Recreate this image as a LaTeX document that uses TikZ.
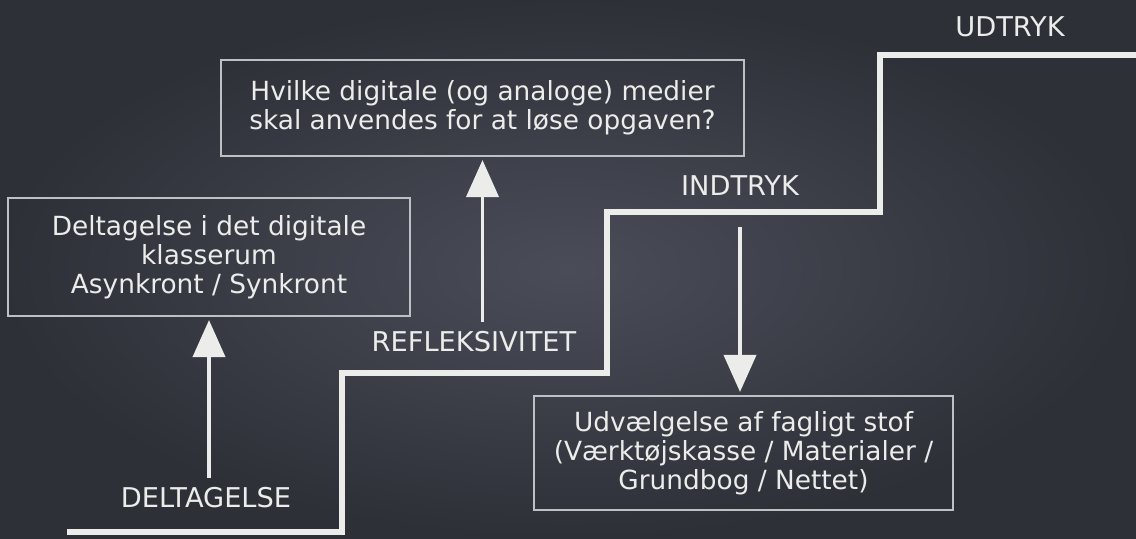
\documentclass[tikz,border=0pt]{standalone}
\usepackage{fontspec}
\setmainfont{DejaVu Sans}
\usepackage{tikz}
\usetikzlibrary{arrows.meta, positioning, calc}
\definecolor{chalk}{RGB}{236, 236, 234}
\definecolor{boardlight}{RGB}{74, 77, 88}
\definecolor{boarddark}{RGB}{46, 48, 56}
\definecolor{boxline}{RGB}{190, 192, 196}
\tikzset{
  notebox/.style={
    draw=boxline, rectangle, line width=0.6pt,
    align=center, text=chalk, inner sep=4pt,
    font=\fontsize{15}{16.5}\selectfont
  },
  steplabel/.style={
    text=chalk, font=\fontsize{15.5}{17}\selectfont
  },
  stairs/.style={
    draw=chalk, line width=3.4pt, line join=miter
  },
  chalkarrow/.style={
    -{Triangle[width=0.64cm, length=0.74cm]}, draw=chalk, fill=chalk,
    line width=2.2pt, shorten <=2pt, shorten >=2pt
  }
}

\begin{document}
\begin{tikzpicture}
        % chalkboard
        \shade[inner color=boardlight, outer color=boarddark] (0,0) rectangle (22.72,10.76);
        \useasboundingbox (0,0) rectangle (22.72,10.76);

        \node[notebox, minimum width=8.04cm, minimum height=2.36cm] (klasserum) at (4.18,5.62) {Deltagelse i det digitale\\klasserum\\Asynkront / Synkront};
        \node[notebox, minimum width=10.46cm, minimum height=1.92cm] (medier) at (9.65,8.60) {Hvilke digitale (og analoge) medier\\skal anvendes for at løse opgaven?};
        \node[notebox, minimum width=8.38cm, minimum height=2.28cm] (stof) at (14.87,1.70) {Udvælgelse af fagligt stof\\(Værktøjskasse / Materialer /\\Grundbog / Nettet)};

        \node[steplabel] (deltagelse) at (4.12,0.80) {DELTAGELSE};
        \node[steplabel] (refleks) at (9.48,3.92) {REFLEKSIVITET};
        \node[steplabel] (indtryk) at (14.80,7.04) {INDTRYK};
        \node[steplabel] (udtryk) at (20.20,10.22) {UDTRYK};

        \draw[stairs] (1.34,0.12) -- (6.84,0.12) -- (6.84,3.30) -- (12.14,3.30) -- (12.14,6.52) -- (17.60,6.52) -- (17.60,9.66) -- (22.80,9.66);

        \draw[chalkarrow] (deltagelse.north -| klasserum.south) -- (klasserum.south);
        \draw[chalkarrow] (refleks.north -| medier.south) -- (medier.south);
        \draw[chalkarrow, shorten <=0.5cm] (indtryk.south) -- (indtryk.south |- stof.north);
      \end{tikzpicture}
\end{document}
